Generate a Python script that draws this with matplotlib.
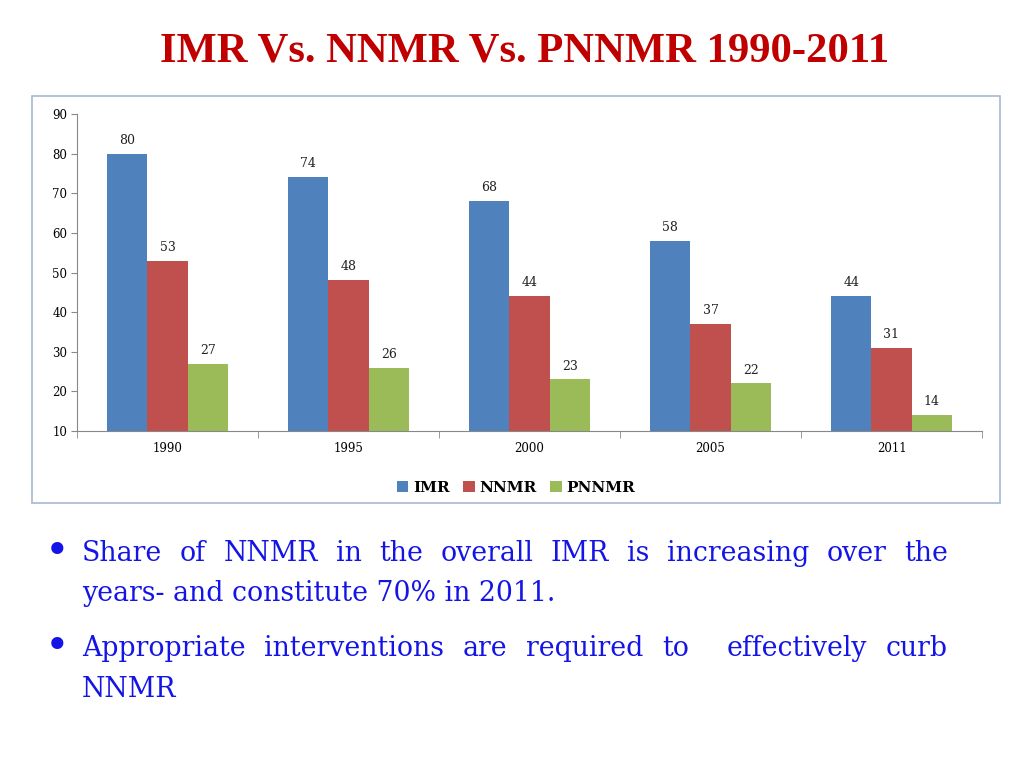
import matplotlib

matplotlib.use("Agg")
import matplotlib.pyplot as plt
import numpy as np
from matplotlib.patches import Rectangle

years = ["1990", "1995", "2000", "2005", "2011"]
imr = [80, 74, 68, 58, 44]
nnmr = [53, 48, 44, 37, 31]
pnnmr = [27, 26, 23, 22, 14]
series = [("IMR", imr, "#4F81BD"), ("NNMR", nnmr, "#C0504D"), ("PNNMR", pnnmr, "#9BBB59")]

title = "IMR Vs. NNMR Vs. PNNMR 1990-2011"
bullets = [
    ["Share of NNMR in the overall IMR is increasing over the",
     "years- and constitute 70% in 2011."],
    ["Appropriate interventions are required to  effectively curb",
     "NNMR"],
]

W, H = 1024, 768
fig = plt.figure(figsize=(W / 100, H / 100), dpi=100)
plt.rcParams["font.family"] = "DejaVu Serif"


def fx(px):
    return px / W


def fy(py):
    return 1 - py / H


fig.text(fx(525), fy(52), title, ha="center", va="center", fontsize=30.7,
         fontweight="bold", color="#C00000", family="Liberation Serif")

# chart frame
fig.patches.append(Rectangle((fx(32), fy(503)), fx(1000) - fx(32), fy(96) - fy(503),
                             transform=fig.transFigure, fill=False,
                             edgecolor="#A7B9D1", linewidth=1.2))

ax = fig.add_axes([fx(77), fy(431), fx(982) - fx(77), fy(114) - fy(431)])
x = np.arange(len(years))
bw = 0.222
for i, (name, vals, col) in enumerate(series):
    pos = x + (i - 1) * bw
    ax.bar(pos, vals, width=bw, color=col, label=name)
    for p, v in zip(pos, vals):
        ax.annotate(str(v), (p, v), textcoords="offset points", xytext=(0, 5),
                    ha="center", va="bottom", fontsize=9, color="#222222")

ax.set_xlim(-0.5, len(years) - 0.5)
ax.set_ylim(10, 90)
ax.set_yticks(range(10, 91, 10))
ax.set_xticks(x)
ax.set_xticklabels(years, fontsize=8.5)
ax.set_xticks(np.arange(-0.5, len(years)), minor=True)
ax.tick_params(axis="x", which="major", length=0, pad=8)
ax.tick_params(axis="x", which="minor", length=5, color="#888888", direction="out")
ax.tick_params(axis="y", labelsize=8.5, length=4, color="#888888", pad=3)
for s in ["top", "right"]:
    ax.spines[s].set_visible(False)
for s in ["left", "bottom"]:
    ax.spines[s].set_color("#888888")

leg = fig.legend(loc="center", bbox_to_anchor=(fx(516), fy(488)), ncol=3, frameon=False,
                 prop={"weight": "bold", "size": 11}, handlelength=0.75, handleheight=0.75,
                 handletextpad=0.3, columnspacing=0.9)

# justified bullet text
fig.canvas.draw()
renderer = fig.canvas.get_renderer()
txt_kw = dict(fontsize=19.3, color="#1414E6", va="baseline")
left, right = 82, 948
baselines = [[561, 601], [656, 697]]
for para, bls in zip(bullets, baselines):
    fig.text(fx(57), fy(bls[0] - 9), "\u2022", ha="center", va="center",
             fontsize=30, color="#1414E6")
    for li, (line, bl) in enumerate(zip(para, bls)):
        last = li == len(para) - 1
        if last:
            fig.text(fx(left), fy(bl), line, ha="left", **txt_kw)
            continue
        words = line.split(" ")
        widths = []
        for w in words:
            if not w:
                widths.append(0)
                continue
            t = fig.text(0, 0, w, **txt_kw)
            widths.append(t.get_window_extent(renderer).width)
            t.remove()
        gap = (right - left - sum(widths)) / (len(words) - 1)
        cx = left
        for w, wd in zip(words, widths):
            if w:
                fig.text(fx(cx), fy(bl), w, ha="left", **txt_kw)
            cx += wd + gap

fig.savefig("out.png", dpi=100)
